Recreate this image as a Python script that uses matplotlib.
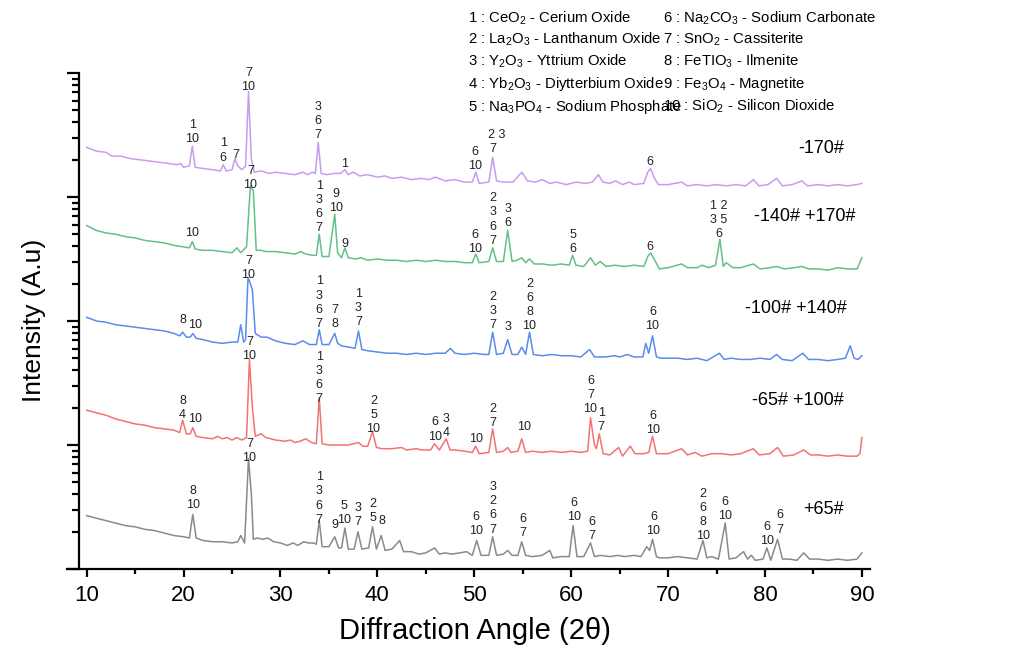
import numpy as np
import matplotlib
matplotlib.use('Agg')
import matplotlib.pyplot as plt
from matplotlib.ticker import LogLocator, NullFormatter, MultipleLocator

plt.rcParams['font.family'] = ['Liberation Sans', 'DejaVu Sans']
plt.rcParams['mathtext.fontset'] = 'custom'
plt.rcParams['mathtext.rm'] = 'Liberation Sans'
plt.rcParams['mathtext.it'] = 'Liberation Sans:italic'

# --- XRD patterns: (2theta, log10 intensity) ---
trace_m170 = [
    (10.0, 3.40), (11.0, 3.37), (12.0, 3.36), (12.6, 3.33), (13.5, 3.33), (14.5, 3.31),
    (15.5, 3.30), (16.5, 3.29), (17.5, 3.28), (18.5, 3.27), (19.3, 3.26), (19.7, 3.27),
    (20.0, 3.24), (20.6, 3.25), (20.9, 3.41), (21.2, 3.24), (22.0, 3.23), (23.0, 3.22),
    (23.8, 3.21), (24.1, 3.26), (24.4, 3.21), (25.0, 3.22), (25.3, 3.31), (25.6, 3.25),
    (26.0, 3.22), (26.4, 3.25), (26.7, 3.85), (27.0, 3.30), (27.3, 3.20), (28.0, 3.21),
    (28.8, 3.19), (29.5, 3.20), (30.5, 3.19), (31.5, 3.18), (32.3, 3.20), (32.8, 3.18),
    (33.3, 3.20), (33.6, 3.19), (33.9, 3.44), (34.2, 3.19), (34.8, 3.18), (35.5, 3.19),
    (36.2, 3.19), (36.65, 3.22), (37.0, 3.18), (37.5, 3.20), (38.2, 3.17), (39.0, 3.18),
    (40.0, 3.16), (40.8, 3.17), (41.5, 3.15), (42.5, 3.16), (43.5, 3.14), (44.5, 3.15),
    (45.3, 3.14), (46.0, 3.16), (47.0, 3.13), (48.0, 3.14), (49.0, 3.12), (49.8, 3.12),
    (50.15, 3.20), (50.5, 3.11), (51.5, 3.12), (51.9, 3.32), (52.3, 3.13), (53.0, 3.12),
    (54.0, 3.12), (54.9, 3.20), (55.5, 3.13), (56.3, 3.12), (57.0, 3.14), (57.8, 3.11),
    (58.5, 3.12), (59.5, 3.10), (60.5, 3.12), (61.5, 3.11), (62.2, 3.12), (62.8, 3.18),
    (63.3, 3.12), (64.0, 3.11), (64.6, 3.13), (65.3, 3.10), (66.0, 3.12), (66.5, 3.10),
    (67.5, 3.11), (67.9, 3.20), (68.2, 3.23), (68.6, 3.15), (69.0, 3.10), (70.0, 3.10),
    (71.4, 3.12), (72.0, 3.09), (73.0, 3.10), (74.0, 3.09), (75.0, 3.10), (76.0, 3.09),
    (77.0, 3.10), (78.0, 3.09), (78.8, 3.14), (79.4, 3.09), (80.3, 3.10), (81.2, 3.15),
    (81.8, 3.09), (82.8, 3.10), (83.8, 3.13), (84.4, 3.09), (85.5, 3.10), (86.5, 3.09),
    (87.5, 3.10), (88.5, 3.09), (89.5, 3.10), (90.0, 3.11),
]

trace_m140 = [
    (10.0, 2.77), (11.0, 2.73), (12.0, 2.71), (13.0, 2.70), (14.0, 2.68), (15.0, 2.67),
    (16.0, 2.65), (17.0, 2.64), (18.0, 2.63), (19.0, 2.61), (19.8, 2.60), (20.6, 2.59),
    (20.9, 2.64), (21.2, 2.58), (22.0, 2.57), (23.0, 2.57), (24.0, 2.56), (25.0, 2.55),
    (25.5, 2.59), (25.9, 2.55), (26.5, 2.60), (26.9, 3.09), (27.2, 3.05), (27.5, 2.57),
    (28.0, 2.57), (28.5, 2.56), (29.5, 2.56), (30.5, 2.55), (31.5, 2.54), (32.1, 2.56),
    (32.6, 2.54), (33.3, 2.53), (33.7, 2.53), (34.0, 2.70), (34.3, 2.52), (35.0, 2.52),
    (35.6, 2.86), (35.9, 2.55), (36.3, 2.51), (36.65, 2.59), (37.0, 2.51), (37.8, 2.50),
    (38.3, 2.51), (39.0, 2.49), (40.0, 2.50), (41.0, 2.49), (42.0, 2.49), (43.0, 2.48),
    (44.0, 2.49), (45.0, 2.48), (46.0, 2.49), (47.0, 2.48), (48.0, 2.48), (49.0, 2.47),
    (49.8, 2.47), (50.15, 2.54), (50.5, 2.47), (51.5, 2.48), (51.9, 2.59), (52.3, 2.48),
    (53.0, 2.48), (53.45, 2.73), (53.9, 2.48), (54.4, 2.49), (54.9, 2.51), (55.3, 2.47),
    (55.7, 2.50), (56.2, 2.46), (57.0, 2.46), (58.0, 2.45), (59.0, 2.46), (59.8, 2.45),
    (60.15, 2.53), (60.5, 2.45), (61.3, 2.44), (62.0, 2.51), (62.5, 2.45), (63.0, 2.48),
    (63.6, 2.44), (64.5, 2.45), (65.5, 2.44), (66.5, 2.45), (67.5, 2.44), (67.9, 2.52),
    (68.2, 2.55), (68.7, 2.48), (69.1, 2.42), (70.0, 2.43), (71.4, 2.46), (72.0, 2.43),
    (73.0, 2.43), (73.5, 2.45), (74.2, 2.43), (74.9, 2.45), (75.35, 2.66), (75.7, 2.44),
    (76.0, 2.47), (76.7, 2.43), (77.5, 2.43), (78.8, 2.46), (79.5, 2.42), (80.5, 2.43),
    (81.2, 2.44), (82.0, 2.42), (83.0, 2.43), (83.8, 2.44), (84.5, 2.42), (85.5, 2.42),
    (86.5, 2.41), (87.5, 2.43), (88.5, 2.42), (89.5, 2.42), (90.0, 2.51),
]

trace_m100 = [
    (10.0, 2.03), (11.0, 2.00), (12.0, 1.99), (13.0, 1.97), (14.0, 1.96), (15.0, 1.95),
    (16.0, 1.94), (17.0, 1.93), (18.0, 1.92), (19.0, 1.90), (19.6, 1.88), (19.9, 1.91),
    (20.3, 1.87), (20.7, 1.87), (20.95, 1.90), (21.3, 1.86), (22.0, 1.85), (23.0, 1.83),
    (24.0, 1.82), (25.0, 1.83), (25.6, 1.83), (25.9, 1.97), (26.2, 1.83), (26.4, 1.85),
    (26.65, 2.35), (26.9, 2.30), (27.1, 2.25), (27.4, 1.90), (28.0, 1.87), (28.6, 1.87),
    (29.5, 1.84), (30.5, 1.82), (31.5, 1.81), (32.3, 1.84), (33.0, 1.81), (33.7, 1.81),
    (34.0, 1.93), (34.3, 1.81), (35.0, 1.81), (35.6, 1.90), (35.9, 1.82), (36.3, 1.80),
    (37.0, 1.79), (37.7, 1.78), (38.05, 1.92), (38.4, 1.77), (39.0, 1.76), (40.0, 1.75),
    (41.0, 1.74), (42.0, 1.74), (43.0, 1.73), (44.0, 1.74), (45.0, 1.73), (46.0, 1.74),
    (47.0, 1.74), (47.55, 1.78), (48.0, 1.74), (49.0, 1.73), (50.0, 1.74), (51.0, 1.73),
    (51.5, 1.73), (51.9, 1.91), (52.3, 1.73), (53.0, 1.74), (53.45, 1.85), (53.9, 1.73),
    (54.5, 1.73), (54.9, 1.79), (55.3, 1.73), (55.7, 1.91), (56.1, 1.73), (57.0, 1.72),
    (58.0, 1.73), (59.0, 1.72), (60.0, 1.72), (61.0, 1.71), (61.9, 1.77), (62.4, 1.71),
    (63.5, 1.71), (64.5, 1.72), (65.0, 1.71), (65.8, 1.73), (66.5, 1.71), (67.4, 1.71),
    (67.7, 1.82), (68.0, 1.74), (68.4, 1.88), (68.8, 1.71), (69.3, 1.70), (70.0, 1.70),
    (71.0, 1.70), (72.0, 1.69), (73.0, 1.70), (74.0, 1.68), (75.3, 1.74), (75.8, 1.69),
    (76.5, 1.70), (77.5, 1.69), (78.5, 1.69), (79.5, 1.70), (80.5, 1.69), (81.2, 1.73),
    (81.8, 1.69), (82.8, 1.68), (83.9, 1.74), (84.5, 1.69), (85.5, 1.69), (86.5, 1.68),
    (87.5, 1.69), (88.3, 1.70), (88.8, 1.80), (89.2, 1.70), (89.6, 1.69), (90.0, 1.72),
]

trace_m65 = [
    (10.0, 1.28), (11.0, 1.26), (12.0, 1.24), (13.0, 1.21), (14.0, 1.19), (15.0, 1.17),
    (16.0, 1.16), (17.0, 1.14), (18.0, 1.13), (19.0, 1.12), (19.6, 1.10), (19.9, 1.20),
    (20.3, 1.09), (20.7, 1.09), (20.95, 1.14), (21.3, 1.07), (22.0, 1.06), (23.0, 1.05),
    (23.5, 1.07), (24.0, 1.05), (24.5, 1.06), (25.0, 1.04), (25.5, 1.06), (26.0, 1.04),
    (26.5, 1.06), (26.8, 1.69), (27.1, 1.30), (27.4, 1.07), (28.0, 1.09), (28.5, 1.06),
    (29.5, 1.04), (30.5, 1.03), (31.0, 1.04), (31.5, 1.02), (32.0, 1.03), (32.6, 1.05),
    (33.2, 1.02), (33.7, 1.01), (34.0, 1.38), (34.3, 1.01), (35.0, 1.00), (36.0, 1.00),
    (37.0, 1.00), (38.05, 1.02), (38.5, 0.99), (39.0, 0.99), (39.5, 1.11), (39.9, 0.98),
    (40.5, 0.97), (41.5, 0.97), (42.5, 0.98), (43.0, 0.96), (44.0, 0.97), (44.6, 0.96),
    (45.5, 0.96), (45.9, 1.01), (46.4, 0.96), (47.1, 1.05), (47.5, 0.96), (48.0, 0.96),
    (49.0, 0.95), (49.8, 0.94), (50.15, 0.99), (50.5, 0.93), (51.5, 0.94), (51.9, 1.13),
    (52.3, 0.94), (53.0, 0.95), (53.45, 0.98), (53.8, 0.94), (54.5, 0.95), (54.9, 1.05),
    (55.3, 0.94), (56.0, 0.95), (57.0, 0.94), (58.0, 0.95), (59.0, 0.94), (60.0, 0.95),
    (61.0, 0.94), (61.7, 0.95), (62.0, 1.22), (62.4, 1.00), (62.6, 0.97), (62.9, 1.09),
    (63.3, 0.93), (64.0, 0.92), (64.9, 0.98), (65.3, 0.91), (66.1, 0.99), (66.6, 0.93),
    (67.5, 0.93), (68.0, 0.94), (68.4, 1.07), (68.8, 0.93), (69.1, 0.93), (70.0, 0.93),
    (71.4, 0.97), (72.0, 0.92), (72.8, 0.94), (73.5, 0.91), (74.5, 0.93), (75.5, 0.93),
    (76.5, 0.92), (77.5, 0.93), (78.8, 0.97), (79.4, 0.92), (80.5, 0.93), (81.3, 0.98),
    (81.9, 0.91), (83.0, 0.92), (84.0, 0.96), (84.7, 0.92), (85.5, 0.92), (86.5, 0.91),
    (87.5, 0.92), (88.5, 0.91), (89.5, 0.91), (89.8, 0.93), (90.0, 1.06),
]

trace_p65 = [
    (10.0, 0.43), (11.0, 0.41), (12.0, 0.39), (13.0, 0.37), (14.0, 0.35), (15.0, 0.34),
    (16.0, 0.32), (17.0, 0.31), (18.0, 0.29), (19.0, 0.27), (20.0, 0.26), (20.6, 0.25),
    (20.95, 0.44), (21.3, 0.25), (22.0, 0.23), (23.0, 0.22), (24.0, 0.22), (25.0, 0.21),
    (25.6, 0.22), (25.9, 0.27), (26.3, 0.21), (26.7, 0.89), (27.0, 0.60), (27.2, 0.24),
    (27.6, 0.25), (28.2, 0.24), (28.7, 0.25), (29.3, 0.22), (30.0, 0.21), (30.7, 0.19),
    (31.3, 0.21), (31.8, 0.19), (32.4, 0.22), (32.9, 0.21), (33.4, 0.21), (33.7, 0.20),
    (34.0, 0.39), (34.3, 0.18), (35.0, 0.18), (35.6, 0.26), (36.0, 0.17), (36.3, 0.17),
    (36.65, 0.33), (37.0, 0.16), (37.6, 0.16), (38.0, 0.30), (38.4, 0.16), (39.1, 0.17),
    (39.5, 0.34), (39.9, 0.16), (40.4, 0.27), (40.8, 0.15), (41.5, 0.16), (42.3, 0.23),
    (42.7, 0.14), (43.5, 0.14), (44.3, 0.12), (45.0, 0.13), (45.9, 0.17), (46.4, 0.12),
    (47.0, 0.13), (47.7, 0.12), (48.5, 0.13), (49.2, 0.14), (49.8, 0.11), (50.25, 0.23),
    (50.7, 0.11), (51.5, 0.11), (51.9, 0.26), (52.3, 0.11), (53.0, 0.12), (53.45, 0.15),
    (53.9, 0.11), (54.5, 0.11), (54.9, 0.22), (55.3, 0.11), (56.0, 0.10), (57.0, 0.11),
    (57.8, 0.15), (58.1, 0.09), (59.0, 0.10), (59.8, 0.10), (60.2, 0.35), (60.6, 0.10),
    (61.3, 0.10), (62.0, 0.21), (62.4, 0.10), (63.0, 0.11), (64.0, 0.10), (64.8, 0.11),
    (65.5, 0.10), (66.5, 0.11), (67.2, 0.10), (67.8, 0.18), (68.1, 0.15), (68.4, 0.24),
    (68.8, 0.10), (69.1, 0.09), (70.0, 0.09), (71.0, 0.10), (72.0, 0.09), (73.0, 0.08),
    (73.6, 0.23), (74.0, 0.09), (74.5, 0.10), (75.2, 0.08), (75.9, 0.37), (76.3, 0.08),
    (77.0, 0.09), (77.8, 0.14), (78.2, 0.08), (78.6, 0.11), (79.0, 0.07), (79.8, 0.08),
    (80.2, 0.17), (80.6, 0.07), (81.3, 0.24), (81.8, 0.08), (82.5, 0.08), (83.3, 0.07),
    (84.0, 0.13), (84.6, 0.08), (85.5, 0.08), (86.5, 0.07), (87.5, 0.08), (88.5, 0.07),
    (89.5, 0.08), (90.0, 0.13),
]

# phase labels above peaks: (2theta, log10 of label bottom, text)
labels_m170 = [
    (20.9, 3.42, "1\n10"), (24.1, 3.27, "1\n6"), (25.4, 3.29, "7"),
    (26.7, 3.84, "7\n10"), (33.9, 3.45, "3\n6\n7"), (36.65, 3.22, "1"),
    (50.1, 3.20, "6\n10"), (52.35, 3.45, "2 3"), (51.9, 3.34, "7"), (68.1, 3.23, "6"),
]
labels_m140 = [
    (26.9, 3.05, "7\n10"), (20.9, 2.66, "10"), (34.0, 2.70, "1\n3\n6\n7"),
    (35.75, 2.86, "9\n10"), (36.65, 2.57, "9"), (50.1, 2.53, "6\n10"),
    (51.9, 2.60, "2\n3\n6\n7"), (53.45, 2.74, "3\n6"), (60.15, 2.53, "5\n6"),
    (68.1, 2.55, "6"), (75.2, 2.65, "1 2\n3 5\n6"),
]
labels_m100 = [
    (19.9, 1.96, "8"), (21.2, 1.92, "10"), (26.7, 2.32, "7\n10"),
    (34.0, 1.93, "1\n3\n6\n7"), (35.6, 1.93, "7\n8"), (38.05, 1.94, "1\n3\n7"),
    (51.9, 1.92, "2\n3\n7"), (53.45, 1.90, "3"), (55.7, 1.91, "2\n6\n8\n10"),
    (68.4, 1.91, "6\n10"),
]
labels_m65 = [
    (19.9, 1.19, "8\n4"), (21.2, 1.16, "10"), (26.8, 1.67, "7\n10"),
    (34.0, 1.32, "1\n3\n6\n7"), (39.6, 1.08, "2\n5\n10"), (45.95, 1.02, "6\n10"),
    (47.1, 1.05, "3\n4"), (50.2, 1.00, "10"), (51.9, 1.13, "2\n7"), (55.1, 1.10, "10"),
    (62.0, 1.24, "6\n7\n10"), (63.1, 1.10, "1\n7"), (68.45, 1.07, "6\n10"),
]
labels_p65 = [
    (21.0, 0.47, "8\n10"), (26.8, 0.85, "7\n10"), (34.0, 0.35, "1\n3\n6\n7"),
    (35.6, 0.31, "9"), (36.6, 0.35, "5\n10"), (38.0, 0.33, "3\n7"), (39.5, 0.36, "2\n5"),
    (40.5, 0.34, "8"), (50.2, 0.26, "6\n10"), (51.9, 0.27, "3\n2\n6\n7"),
    (55.0, 0.24, "6\n7"), (60.3, 0.37, "6\n10"), (62.1, 0.22, "6\n7"),
    (68.5, 0.26, "6\n10"), (73.6, 0.22, "2\n6\n8\n10"), (75.9, 0.38, "6\n10"),
    (80.2, 0.18, "6\n10"), (81.5, 0.27, "6\n7"),
]

sample_names = ["-170#", "-140# +170#", "-100# +140#", "-65# +100#", "+65#"]
sample_name_x = [85.8, 84.1, 83.15, 83.4, 86.0]
sample_name_log = [3.39, 2.84, 2.10, 1.355, 0.48]
colors = ['#c79cf0', '#62c088', '#5a8cec', '#f47272', '#8a8a8a']

legend_left = [
    "1 : CeO$_2$ - Cerium Oxide",
    "2 : La$_2$O$_3$ - Lanthanum Oxide",
    "3 : Y$_2$O$_3$ - Yttrium Oxide",
    "4 : Yb$_2$O$_3$ - Diytterbium Oxide",
    "5 : Na$_3$PO$_4$ - Sodium Phosphate",
]
legend_right = [
    "6 : Na$_2$CO$_3$ - Sodium Carbonate",
    "7 : SnO$_2$ - Cassiterite",
    "8 : FeTIO$_3$ - Ilmenite",
    "9 : Fe$_3$O$_4$ - Magnetite",
    "10 : SiO$_2$ - Silicon Dioxide",
]

W, H = 1014, 651
fig = plt.figure(figsize=(W / 100, H / 100), dpi=100)
ax = fig.add_axes([67 / W, 1 - 569 / H, (870 - 67) / W, (569 - 73) / H])

traces = [trace_m170, trace_m140, trace_m100, trace_m65, trace_p65]
all_labels = [labels_m170, labels_m140, labels_m100, labels_m65, labels_p65]

for pts, col in zip(traces, colors):
    x, lg = np.array(pts).T
    ax.plot(x, 10 ** lg, color=col, lw=1.1)

for labs in all_labels:
    for x, lg, s in labs:
        ax.text(x, 10 ** lg, s, ha='center', va='bottom', fontsize=9,
                linespacing=1.23, multialignment='center', color='#222222')

for name, x, lg in zip(sample_names, sample_name_x, sample_name_log):
    ax.text(x, 10 ** lg, name, ha='center', va='center', fontsize=13)

ax.set_yscale('log')
ax.set_ylim(1, 1e4)
ax.set_xlim(7.97, 90.84)
ax.spines['left'].set_position(('data', 9.2))
ax.spines['top'].set_visible(False)
ax.spines['right'].set_visible(False)
for s in ['left', 'bottom']:
    ax.spines[s].set_linewidth(1.6)

ax.xaxis.set_major_locator(MultipleLocator(10))
ax.xaxis.set_minor_locator(MultipleLocator(5))
ax.yaxis.set_major_locator(LogLocator(base=10, numticks=10))
ax.yaxis.set_minor_locator(LogLocator(base=10, subs=np.arange(2, 10), numticks=20))
ax.yaxis.set_major_formatter(NullFormatter())
ax.yaxis.set_minor_formatter(NullFormatter())

ax.tick_params(axis='x', which='major', direction='out', length=6, width=1.6,
               labelsize=16, pad=5.5)
ax.tick_params(axis='x', which='minor', direction='out', length=3.5, width=1.6)
ax.tick_params(axis='y', which='major', direction='out', length=9, width=1.6)
ax.tick_params(axis='y', which='minor', direction='out', length=5, width=1.6)

ax.set_xlabel("Diffraction Angle (2θ)", fontsize=21)
ax.xaxis.set_label_coords((475 - 67) / 803, (569 - 617) / 496)
ax.set_ylabel("Intensity (A.u)", fontsize=19)
ax.yaxis.set_label_coords((45.5 - 67) / 803, (569 - 320) / 496)

row_base = [22.5, 43.5, 65.5, 88, 111]
for txt, yb in zip(legend_left, row_base):
    fig.text(468 / W, 1 - yb / H, txt, ha='left', va='baseline', fontsize=10.7)
for txt, yb in zip(legend_right, row_base):
    fig.text(663 / W, 1 - yb / H, txt, ha='left', va='baseline', fontsize=10.7)

fig.savefig('out.png', dpi=100)
